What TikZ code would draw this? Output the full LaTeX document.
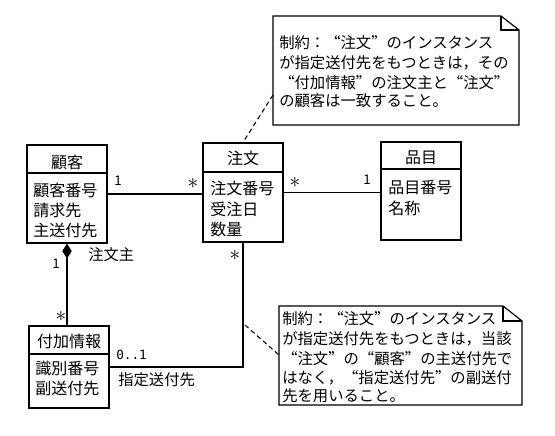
\documentclass[tikz,border=0pt]{standalone}
\usepackage{fontspec}
\setmainfont{Noto Sans CJK JP}
\newfontfamily\fullfnt[CharacterWidth=Full]{Noto Sans CJK JP}
\newfontfamily\monofnt{DejaVu Sans Mono}
\usepackage{graphicx}
\usetikzlibrary{arrows.meta,fit}
\begin{document}
\begin{tikzpicture}[x=0.75pt,y=-0.75pt,
  box/.style={draw, line width=0.9pt, inner sep=0pt},
  divline/.style={line width=0.9pt},
  ctxt/.style={inner sep=0pt, anchor=base west, font=\fontsize{12}{14}\selectfont},
  htxt/.style={inner sep=0pt, anchor=base, font=\fontsize{12}{14}\selectfont},
  ntxt/.style={inner sep=0pt, anchor=base west, font=\fullfnt\fontsize{11.5}{14}\selectfont},
  rtxt/.style={inner sep=0pt, anchor=west, font=\fullfnt\fontsize{11.5}{14}\selectfont},
  lbl/.style={inner sep=0pt, font=\fontsize{10}{11}\selectfont},
  mult/.style={inner sep=0pt},
  conn/.style={line width=0.8pt},
  dashline/.style={line width=0.8pt, dash pattern=on 3.5pt off 2.5pt},
  noteline/.style={line width=0.9pt}
]
\useasboundingbox (0,0) rectangle (555,435);

% classes
\node[box, fit={(27,145) (107,243)}] (kokyaku) {};
\draw[divline] (kokyaku.west |- 0,173) -- (kokyaku.east |- 0,173);
\node[htxt] (kokyakuH) at (67,168) {顧客};
\node[ctxt] (kokyakuA1) at (33,196) {顧客番号};
\node[ctxt] (kokyakuA2) at (33,216) {請求先};
\node[ctxt] (kokyakuA3) at (33,236) {主送付先};

\node[box, fit={(203,143) (283,242)}] (chumon) {};
\draw[divline] (chumon.west |- 0,172) -- (chumon.east |- 0,172);
\node[htxt] (chumonH) at (243,164) {注文};
\node[ctxt] (chumonA1) at (210,194) {注文番号};
\node[ctxt] (chumonA2) at (210,215) {受注日};
\node[ctxt] (chumonA3) at (210,235) {数量};

\node[box, fit={(381,142) (461,240)}] (hinmoku) {};
\draw[divline] (hinmoku.west |- 0,169) -- (hinmoku.east |- 0,169);
\node[htxt] (hinmokuH) at (421,163) {品目};
\node[ctxt] (hinmokuA1) at (388,193) {品目番号};
\node[ctxt] (hinmokuA2) at (388,214) {名称};

\node[box, fit={(29,326) (109,408)}] (fuka) {};
\draw[divline] (fuka.west |- 0,354) -- (fuka.east |- 0,354);
\node[htxt] (fukaH) at (69,347) {付加情報};
\node[ctxt] (fukaA1) at (35,374) {識別番号};
\node[ctxt] (fukaA2) at (35,394) {副送付先};

% associations
\draw[conn] (kokyaku.east) -- (kokyaku.east -| chumon.west);
\draw[conn] (chumon.east) -- (chumon.east -| hinmoku.west);
\draw[conn, {Diamond[length=11.25pt,width=7pt,fill=black]}-] (kokyaku.south) -- (kokyaku.south |- fuka.north);
\draw[conn] (fuka.east) -| (chumon.south);

% multiplicities and roles
\node[lbl] (m1) at (118,181) {1};
\node[mult] (m2) at (193,184) {\scalebox{1.6}{$\ast$}};
\node[mult] (m3) at (295,183) {\scalebox{1.6}{$\ast$}};
\node[lbl] (m4) at (367,180) {1};
\node[lbl] (m5) at (56,264) {1};
\node[mult] (m6) at (61,317) {\scalebox{1.6}{$\ast$}};
\node[mult] (m7) at (235,256) {\scalebox{1.6}{$\ast$}};
\node[lbl, anchor=west, font=\monofnt\fontsize{9.5}{10}\selectfont] (m8) at (116,355) {0..1};
\node[rtxt] (r1) at (88,255) {注文主};
\node[rtxt] (r2) at (118,380) {指定送付先};

% note 1
\draw[noteline, fill=white] (273,16) -- (501,16) -- (519,30) -- (519,125) -- (273,125) -- cycle;
\draw[noteline] (501,16) -- (501,30) -- (519,30);
\node[ntxt] (n1l1) at (279,49) {制約：“注文”のインスタンス};
\node[ntxt] (n1l2) at (279,68) {が指定送付先をもつときは，その};
\node[ntxt] (n1l3) at (279,88) {“付加情報”の注文主と“注文”};
\node[ntxt] (n1l4) at (279,106) {の顧客は一致すること。};
\coordinate (n1c) at (273,95);
\draw[dashline] (n1c) -- (chumon.north);

% note 2
\draw[noteline, fill=white] (279,306) -- (503,306) -- (522,321) -- (522,405) -- (279,405) -- cycle;
\draw[noteline] (503,306) -- (503,321) -- (522,321);
\node[ntxt] (n2l1) at (282,324) {制約：“注文”のインスタンス};
\node[ntxt] (n2l2) at (282,344) {が指定送付先をもつときは，当該};
\node[ntxt] (n2l3) at (282,364) {“注文”の“顧客”の主送付先で};
\node[ntxt] (n2l4) at (282,383) {はなく，“指定送付先”の副送付};
\node[ntxt] (n2l5) at (282,401) {先を用いること。};
\coordinate (n2c) at (279,355);
\coordinate (v2) at (245,325);
\draw[dashline] (v2) -- (n2c);
\end{tikzpicture}
\end{document}
